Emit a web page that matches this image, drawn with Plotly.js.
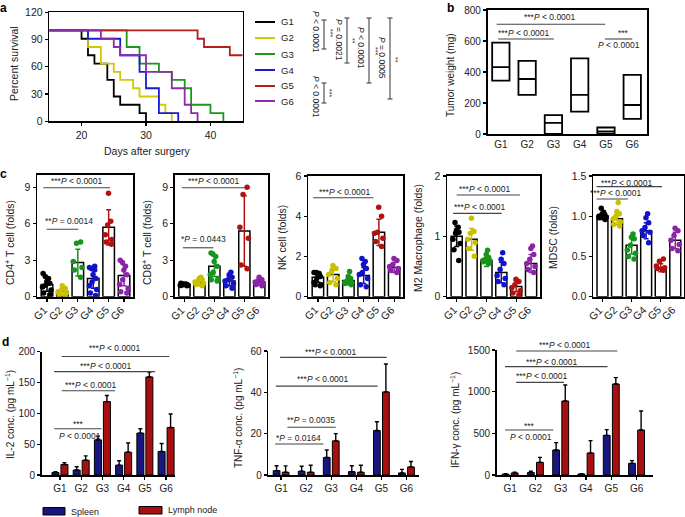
<!DOCTYPE html>
<html>
<head>
<meta charset="utf-8">
<script src="https://cdn.plot.ly/plotly-3.0.1.min.js"></script>
<style>
  html, body { margin: 0; padding: 0; background: #fff; }
  #fig { width: 685px; height: 517px; }
</style>
</head>
<body>
<div id="fig"></div>
<script>
// ---- data ----
const groups = ['G1', 'G2', 'G3', 'G4', 'G5', 'G6'];

// a: survival (Kaplan-Meier steps)
const survDays = [
  [15, 20, 21, 22, 24, 25, 26, 29, 30],
  [15, 21, 23, 25, 26, 28, 29, 32, 33, 34],
  [15, 27, 29, 32, 34, 36, 37, 40, 42],
  [15, 21, 26, 29, 30, 32, 35],
  [15, 38, 39, 43, 45],
  [15, 23, 25, 26, 30, 34, 36, 37, 38]
];
const survPct = [
  [100, 90.9, 72.7, 63.6, 45.5, 27.3, 18.2, 9.1, 0],
  [100, 81.8, 63.6, 54.5, 45.5, 36.4, 27.3, 18.2, 9.1, 0],
  [100, 81.8, 63.6, 54.5, 45.5, 36.4, 18.2, 9.1, 0],
  [100, 90.9, 72.7, 54.5, 36.4, 9.1, 0],
  [100, 90.9, 81.8, 72.7, 72.7],
  [100, 90.9, 81.8, 72.7, 54.5, 36.4, 18.2, 9.1, 0]
];

// b: tumor weight (min / median / max)
const tumorLow = [345, 252, 0, 144, 0, 97];
const tumorMed = [432, 355, 72, 252, 16, 187];
const tumorHigh = [590, 472, 122, 488, 42, 382];

// c: immune cells (mean, sd, individual points)
const cd4Mean = [1.0, 0.42, 2.8, 1.5, 5.7, 1.75];
const cd4Sd = [0.55, 0.3, 1.1, 0.8, 1.45, 0.85];
const cd4Dots = [
  [1.9, 1.65, 1.5, 1.25, 1.1, 0.95, 0.8, 0.55, 0.3, 0.15],
  [0.9, 0.7, 0.5, 0.4, 0.3, 0.15, 0.1],
  [4.5, 4.4, 2.9, 2.4, 2.2, 1.6],
  [2.5, 2.4, 2.3, 2.2, 1.8, 1.5, 1.2, 0.9, 0.6, 0.3, 0.1],
  [8.5, 6.2, 5.9, 5.1, 4.7, 4.5, 4.3],
  [3.0, 2.8, 2.5, 2.2, 1.8, 1.4, 1.0, 0.7, 0.4, 0.3]
];
const cd8Mean = [1.0, 1.15, 2.5, 1.3, 5.4, 1.2];
const cd8Sd = [0.1, 0.25, 0.85, 0.4, 2.9, 0.25];
const cd8Dots = [
  [1.1, 1.05, 1.0, 1.0, 0.95, 0.9, 1.0, 1.05, 0.95, 0.92],
  [1.6, 1.5, 1.4, 1.3, 1.2, 1.1, 1.0, 0.9],
  [3.6, 3.5, 3.3, 2.9, 2.5, 2.0, 1.8, 1.5, 1.4, 1.3],
  [2.0, 1.8, 1.6, 1.4, 1.3, 1.1, 0.9, 0.7],
  [9.0, 8.4, 5.7, 4.8, 2.6, 2.3],
  [1.6, 1.4, 1.3, 1.2, 1.1, 1.0, 0.9]
];
const nkMean = [0.97, 1.1, 0.8, 1.05, 3.2, 1.45];
const nkSd = [0.25, 0.35, 0.2, 0.4, 0.65, 0.25];
const nkDots = [
  [1.2, 1.2, 1.15, 1.1, 1.0, 0.9, 0.7, 0.6, 0.55, 0.6],
  [1.55, 1.4, 1.3, 1.1, 0.9, 0.7, 0.6],
  [1.25, 1.0, 0.9, 0.8, 0.7, 0.65, 0.6, 0.7],
  [1.9, 1.75, 1.6, 1.4, 1.2, 1.1, 0.9, 0.6, 0.5],
  [4.45, 4.0, 3.2, 3.15, 2.9, 2.75, 2.5],
  [1.9, 1.8, 1.6, 1.5, 1.4, 1.3, 1.2]
];
const m2Mean = [1.0, 0.95, 0.6, 0.4, 0.17, 0.55];
const m2Sd = [0.17, 0.18, 0.1, 0.17, 0.09, 0.15];
const m2Dots = [
  [1.23, 1.15, 1.1, 1.07, 1.05, 0.95, 0.88, 0.78, 0.6],
  [1.3, 1.08, 1.05, 0.95, 0.9, 0.8, 0.67],
  [0.77, 0.7, 0.65, 0.62, 0.6, 0.58, 0.55, 0.6],
  [0.73, 0.62, 0.55, 0.45, 0.35, 0.3, 0.25, 0.2],
  [0.29, 0.25, 0.2, 0.15, 0.1, 0.06, 0.03],
  [0.84, 0.8, 0.7, 0.62, 0.55, 0.5, 0.45, 0.4]
];
const mdscMean = [1.0, 0.97, 0.64, 0.82, 0.36, 0.7];
const mdscSd = [0.04, 0.08, 0.11, 0.1, 0.05, 0.1];
const mdscDots = [
  [1.1, 1.05, 1.03, 1.02, 1.0, 0.99, 0.98, 0.96, 1.01],
  [1.17, 1.06, 1.03, 1.0, 0.97, 0.93, 0.9, 0.88],
  [0.78, 0.74, 0.72, 0.64, 0.58, 0.54, 0.5, 0.47],
  [1.03, 0.98, 0.92, 0.86, 0.82, 0.8, 0.76, 0.67],
  [0.47, 0.44, 0.38, 0.36, 0.35, 0.33],
  [0.85, 0.82, 0.76, 0.7, 0.65, 0.6, 0.57]
];

// d: cytokines, spleen vs lymph node
const il2Spleen = [4, 8, 57, 16, 68, 38];
const il2SpleenErr = [1.5, 5.5, 6, 7, 7, 13];
const il2Lymph = [17, 24, 119, 37, 159, 77];
const il2LymphErr = [3, 7, 10, 15, 8, 22];
const tnfSpleen = [2.1, 1.8, 8.5, 1.6, 21.5, 1.0];
const tnfSpleenErr = [2.4, 2.4, 3.6, 2.9, 4.3, 1.7];
const tnfLymph = [1.3, 1.3, 16.5, 1.3, 40.2, 3.9];
const tnfLymphErr = [3.1, 3.4, 3.5, 3.4, 13.5, 2.6];
const ifnSpleen = [10, 30, 300, 12, 476, 140];
const ifnSpleenErr = [5, 16, 88, 5, 68, 32];
const ifnLymph = [25, 152, 888, 264, 1092, 540];
const ifnLymphErr = [8, 60, 192, 148, 76, 228];

// ---- styling / layout ----
const W = 685, H = 517;
const FONT = 'Liberation Sans, Arial, Helvetica, sans-serif';
const lineColors = ['#000000', '#d2c900', '#1c961c', '#1a1ad2', '#b81c1c', '#8e2aab'];
const dotColors = ['#000000', '#c9c000', '#17941d', '#1212c8', '#b01212', '#8b24a8'];
const spleenColor = '#17177f';
const lymphColor = '#a81010';

// subplot boxes in pixels and their value ranges
const sp = {
  a:  {n: 1,  xd: [49.3, 242.7], yd: [12.3, 121.3], xr: [15, 45], yr: [0, 120]},
  b:  {n: 2,  xd: [487.7, 646.7], yd: [10, 134], xr: [-0.5, 5.55], yr: [0, 800]},
  c1: {n: 3,  xd: [37.3, 133.3], yd: [175, 296.7], xr: [-0.63, 5.6], yr: [0, 10]},
  c2: {n: 4,  xd: [175, 268.3], yd: [175, 296.7], xr: [-0.63, 5.6], yr: [0, 10]},
  c3: {n: 5,  xd: [308.3, 403.3], yd: [176, 296.7], xr: [-0.63, 5.6], yr: [0, 6]},
  c4: {n: 6,  xd: [447.3, 540], yd: [176, 296.7], xr: [-0.63, 5.6], yr: [0, 2]},
  c5: {n: 7,  xd: [593.3, 684], yd: [176, 296.7], xr: [-0.63, 5.6], yr: [0, 1.5]},
  d1: {n: 8,  xd: [41.7, 175], yd: [351.7, 475], xr: [-0.86, 5.42], yr: [0, 200]},
  d2: {n: 9,  xd: [268.3, 419], yd: [351, 475], xr: [-0.51, 5.5], yr: [0, 60]},
  d3: {n: 10, xd: [496.7, 653], yd: [350, 475], xr: [-0.53, 5.65], yr: [0, 1500]}
};
const axId = (s, l) => l + (s.n > 1 ? s.n : '');
const pxX = (s, v) => s.xd[0] + (v - s.xr[0]) / (s.xr[1] - s.xr[0]) * (s.xd[1] - s.xd[0]);
const pxY = (s, v) => s.yd[1] - (v - s.yr[0]) / (s.yr[1] - s.yr[0]) * (s.yd[1] - s.yd[0]);
const paperX = px => px / W;
const paperY = py => 1 - py / H;

const traces = [];
const shapes = [];
const annotations = [];
const layout = {
  width: W, height: H,
  margin: {l: 0, r: 0, t: 0, b: 0},
  paper_bgcolor: '#fff', plot_bgcolor: 'rgba(0,0,0,0)',
  showlegend: false,
  barmode: 'overlay', boxmode: 'overlay',
  font: {family: FONT, size: 10, color: '#222'},
  shapes: shapes, annotations: annotations
};

function makeAxes(key, o) {
  const s = sp[key];
  const common = {
    showline: true, linecolor: '#000', linewidth: o.lw || 1.6,
    mirror: o.mirror || false,
    ticks: 'outside', ticklen: 3, tickwidth: 1.2, tickcolor: '#000',
    showgrid: false, zeroline: false, fixedrange: true, automargin: false,
    tickfont: {family: FONT, size: o.fs || 10, color: '#222'}
  };
  const xa = Object.assign({}, common, {
    domain: [paperX(s.xd[0]), paperX(s.xd[1])],
    anchor: axId(s, 'y'), range: s.xr
  }, o.x || {});
  const ya = Object.assign({}, common, {
    domain: [paperY(s.yd[1]), paperY(s.yd[0])],
    anchor: axId(s, 'x'), range: s.yr
  }, o.y || {});
  layout['xaxis' + (s.n > 1 ? s.n : '')] = xa;
  layout['yaxis' + (s.n > 1 ? s.n : '')] = ya;
}
const catX = {type: 'category', categoryorder: 'array', categoryarray: groups};

// text helpers
function txt(x, y, text, extra) {
  annotations.push(Object.assign({
    xref: 'paper', yref: 'paper', x: paperX(x), y: paperY(y), text: text,
    showarrow: false, xanchor: 'center', yanchor: 'middle',
    font: {family: FONT, size: 8.5, color: '#222'}
  }, extra || {}));
}
function pline(x0, y0, x1, y1, color, width) {
  shapes.push({type: 'line', xref: 'paper', yref: 'paper',
    x0: paperX(x0), y0: paperY(y0), x1: paperX(x1), y1: paperY(y1),
    line: {color: color || '#444', width: width || 1.1}});
}
// significance bar in data units of a subplot
function sig(key, x0, x1, y, label, lx, ly) {
  const s = sp[key];
  if (x1 > x0) pline(pxX(s, x0), pxY(s, y), pxX(s, x1), pxY(s, y));
  if (label) txt(pxX(s, lx), pxY(s, ly), label);
}
function yTitle(x, y, text, size) {
  txt(x, y, text, {textangle: -90, font: {family: FONT, size: size || 10, color: '#222'}});
}
const SIG3 = '***<i>P</i> < 0.0001';

// ---- panel a ----
makeAxes('a', {mirror: true, fs: 10.5,
  x: {tickvals: [20, 30, 40]},
  y: {tickvals: [0, 30, 60, 90, 120]}});
survDays.forEach((d, i) => {
  traces.push({type: 'scatter', mode: 'lines', x: d, y: survPct[i], xaxis: 'x', yaxis: 'y',
    line: {shape: 'hv', color: lineColors[i], width: 1.8}, hoverinfo: 'skip'});
});
yTitle(14, 64, 'Percent survival', 10.5);
txt(147, 151, 'Days after surgery', {font: {family: FONT, size: 10.5, color: '#222'}});
// legend
[22, 38, 54, 70, 86, 101].forEach((y, i) => {
  pline(255, y, 275, y, lineColors[i], 2);
  txt(279, y, groups[i], {xanchor: 'left', font: {family: FONT, size: 9.5, color: '#222'}});
});
// log-rank brackets
function vbracket(x, y0, y1, stars, ptext, ty, py) {
  pline(x, y0, x, y1, '#444', 1.1);
  pline(x - 2.5, y0, x + 2.5, y0, '#444', 1.1);
  pline(x - 2.5, y1, x + 2.5, y1, '#444', 1.1);
  txt(x + 6, ty, stars, {textangle: 90, font: {family: FONT, size: 7, color: '#222'}});
  txt(x - 8, py, ptext, {textangle: 90, font: {family: FONT, size: 8.5, color: '#222'}});
}
vbracket(324, 20, 49, '***', '<i>P</i> < 0.0001', 33, 32);
vbracket(347, 18, 63, '**', '<i>P</i> = 0.0021', 41, 40);
vbracket(369, 18, 83, '***', '<i>P</i> < 0.0001', 51, 48);
vbracket(390, 18, 99, '**', '<i>P</i> = 0.0005', 60, 58);
vbracket(324, 83, 103, '***', '<i>P</i> < 0.0001', 93, 97);

// ---- panel b ----
makeAxes('b', {mirror: true, lw: 1.8, fs: 10,
  x: Object.assign({}, catX, {ticks: ''}),
  y: {tickvals: [0, 200, 400, 600, 800]}});
traces.push({type: 'box', xaxis: 'x2', yaxis: 'y2', x: groups,
  q1: tumorLow, median: tumorMed, q3: tumorHigh,
  lowerfence: tumorLow, upperfence: tumorHigh,
  boxpoints: false, width: 0.66, whiskerwidth: 0,
  fillcolor: '#fff', line: {color: '#000', width: 1.8}, hoverinfo: 'skip'});
yTitle(450, 75, 'Tumor weight (mg)', 10);
sig('b', -0.16, 3.97, 708, SIG3, 1.87, 757);
sig('b', -0.1, 2.02, 613, SIG3, 0.88, 650);
sig('b', 3.96, 5.0, 613, '***', 4.66, 650);
sig('b', 0, 0, 613, '<i>P</i> < 0.0001', 4.5, 574);

// ---- panel c ----
const cPanels = [
  {key: 'c1', mean: cd4Mean, sd: cd4Sd, dots: cd4Dots, ticks: [0, 3, 6, 9], title: 'CD4<sup>+</sup> T cell (folds)', tx: 10, ty: 243},
  {key: 'c2', mean: cd8Mean, sd: cd8Sd, dots: cd8Dots, ticks: [0, 3, 6, 9], title: 'CD8<sup>+</sup> T cell (folds)', tx: 147, ty: 243},
  {key: 'c3', mean: nkMean, sd: nkSd, dots: nkDots, ticks: [0, 2, 4, 6], title: 'NK cell (folds)', tx: 282, ty: 238},
  {key: 'c4', mean: m2Mean, sd: m2Sd, dots: m2Dots, ticks: [0, 1, 2], title: 'M2 Macrophage (folds)', tx: 418, ty: 238},
  {key: 'c5', mean: mdscMean, sd: mdscSd, dots: mdscDots, ticks: [0, 0.5, 1, 1.5], title: 'MDSC (folds)', tx: 553, ty: 238, fmt: '.1f'}
];
cPanels.forEach(p => {
  const s = sp[p.key];
  const xa = axId(s, 'x'), ya = axId(s, 'y');
  makeAxes(p.key, {mirror: true, lw: 1.8, fs: 10.5,
    x: Object.assign({}, catX, {showticklabels: false}),
    y: {tickvals: p.ticks, tickformat: p.fmt || ''}});
  traces.push({type: 'bar', xaxis: xa, yaxis: ya, x: groups, y: p.mean, width: 0.75,
    marker: {color: '#fff', line: {color: '#000', width: 1.5}}, hoverinfo: 'skip'});
  groups.forEach((g, i) => {
    traces.push({type: 'box', xaxis: xa, yaxis: ya, orientation: 'v',
      x: p.dots[i].map(() => g), y: p.dots[i],
      boxpoints: 'all', jitter: 1, pointpos: 0, width: 0.7,
      line: {width: 0, color: 'rgba(0,0,0,0)'}, fillcolor: 'rgba(0,0,0,0)',
      marker: {color: dotColors[i], size: 5.5}, hoverinfo: 'skip'});
    traces.push({type: 'scatter', mode: 'markers', xaxis: xa, yaxis: ya,
      x: [g], y: [p.mean[i]], marker: {size: 1, color: 'rgba(0,0,0,0)'},
      error_y: {type: 'data', array: [p.sd[i]], color: dotColors[i], thickness: 1.5, width: 2.5},
      hoverinfo: 'skip'});
    // slanted category label under the tick
    txt(pxX(s, i) + 5, s.yd[1] + 4, g, {textangle: -45, xanchor: 'right', yanchor: 'top',
      font: {family: FONT, size: 10.5, color: '#222'}});
  });
  yTitle(p.tx, p.ty, p.title, 10.5);
});
sig('c1', -0.24, 4.09, 8.95, SIG3, 1.93, 9.5);
sig('c1', -0.02, 2.03, 5.54, '**<i>P</i> = 0.0014', 1.4, 6.23);
sig('c2', -0.17, 4.05, 8.95, SIG3, 1.95, 9.5);
sig('c2', -0.1, 1.93, 4.02, '*<i>P</i> = 0.0443', 1.25, 4.71);
sig('c3', -0.31, 3.64, 4.92, SIG3, 1.78, 5.22);
sig('c4', 0, 4.25, 1.685, SIG3, 1.9, 1.78);
sig('c4', -0.24, 3.02, 1.38, SIG3, 1.56, 1.49);
sig('c5', -0.4, 4.09, 1.368, SIG3, 1.69, 1.417);
sig('c5', -0.4, 1.76, 1.214, SIG3, 0.94, 1.285);

// ---- panel d ----
const dPanels = [
  {key: 'd1', sp: il2Spleen, spE: il2SpleenErr, ln: il2Lymph, lnE: il2LymphErr, w: 0.33, gap: 0.094,
   ticks: [0, 50, 100, 150, 200], title: 'IL-2 conc. (pg mL<sup>−1</sup>)', tx: 10, ty: 415},
  {key: 'd2', sp: tnfSpleen, spE: tnfSpleenErr, ln: tnfLymph, lnE: tnfLymphErr, w: 0.27, gap: 0.09,
   ticks: [0, 20, 40, 60], title: 'TNF-α conc. (pg mL<sup>−1</sup>)', tx: 238, ty: 418},
  {key: 'd3', sp: ifnSpleen, spE: ifnSpleenErr, ln: ifnLymph, lnE: ifnLymphErr, w: 0.27, gap: 0.09,
   ticks: [0, 500, 1000, 1500], title: 'IFN-γ conc. (pg mL<sup>−1</sup>)', tx: 455, ty: 420}
];
dPanels.forEach(p => {
  const s = sp[p.key];
  const xa = axId(s, 'x'), ya = axId(s, 'y');
  makeAxes(p.key, {lw: 1.6, fs: 10, x: Object.assign({}, catX), y: {tickvals: p.ticks}});
  traces.push({type: 'bar', xaxis: xa, yaxis: ya, x: groups, y: p.sp,
    width: p.w, offset: -(p.w + p.gap / 2),
    marker: {color: spleenColor, line: {color: '#000', width: 1}},
    error_y: {type: 'data', symmetric: false, array: p.spE, arrayminus: p.spE.map(() => 0),
      color: '#000', thickness: 1.4, width: 2}, hoverinfo: 'skip'});
  traces.push({type: 'bar', xaxis: xa, yaxis: ya, x: groups, y: p.ln,
    width: p.w, offset: p.gap / 2,
    marker: {color: lymphColor, line: {color: '#000', width: 1}},
    error_y: {type: 'data', symmetric: false, array: p.lnE, arrayminus: p.lnE.map(() => 0),
      color: '#000', thickness: 1.4, width: 2}, hoverinfo: 'skip'});
  yTitle(p.tx, p.ty, p.title, 10);
});
sig('d1', 0.08, 5.15, 192.1, SIG3, 2.59, 205.8);
sig('d1', -0.27, 4.48, 167.7, SIG3, 2.18, 176.9);
sig('d1', 0.08, 2.59, 136.6, SIG3, 1.44, 146.4);
sig('d1', -0.27, 1.96, 74.9, '***', 0.86, 82.9);
sig('d1', 0, 0, 74.9, '<i>P</i> < 0.0001', 0.94, 63.3);
sig('d2', -0.04, 4.21, 56.9, SIG3, 1.98, 59.7);
sig('d2', -0.21, 3.85, 43.0, SIG3, 1.66, 46.3);
sig('d2', 0.25, 2.18, 23.1, '**<i>P</i> = 0.0035', 1.18, 26.6);
sig('d2', -0.24, 1.69, 15.0, '*<i>P</i> = 0.0164', 0.7, 17.7);
sig('d3', 0.24, 4.24, 1488, SIG3, 2.19, 1560);
sig('d3', -0.2, 3.85, 1300, SIG3, 1.65, 1360);
sig('d3', 0.24, 2.13, 1112, SIG3, 1.26, 1188);
sig('d3', -0.2, 1.71, 540, '***', 0.76, 588);
sig('d3', 0, 0, 540, '<i>P</i> < 0.0001', 0.83, 452);

// legend for d
shapes.push({type: 'rect', xref: 'paper', yref: 'paper',
  x0: paperX(43), x1: paperX(65), y0: paperY(515), y1: paperY(507.5),
  fillcolor: spleenColor, line: {color: '#000', width: 1}});
txt(69, 511.5, 'Spleen', {xanchor: 'left', font: {family: FONT, size: 9, color: '#222'}});
shapes.push({type: 'rect', xref: 'paper', yref: 'paper',
  x0: paperX(139), x1: paperX(162), y0: paperY(514), y1: paperY(506.5),
  fillcolor: lymphColor, line: {color: '#000', width: 1}});
txt(166, 510, 'Lymph node', {xanchor: 'left', font: {family: FONT, size: 9, color: '#222'}});

// panel letters
[['a', 4, 8], ['b', 450, 8], ['c', 4, 174], ['d', 5, 342]].forEach(l => {
  txt(l[1], l[2], '<b>' + l[0] + '</b>', {font: {family: FONT, size: 12, color: '#000'}});
});

Plotly.newPlot('fig', traces, layout, {displayModeBar: false, staticPlot: true});
</script>
</body>
</html>
